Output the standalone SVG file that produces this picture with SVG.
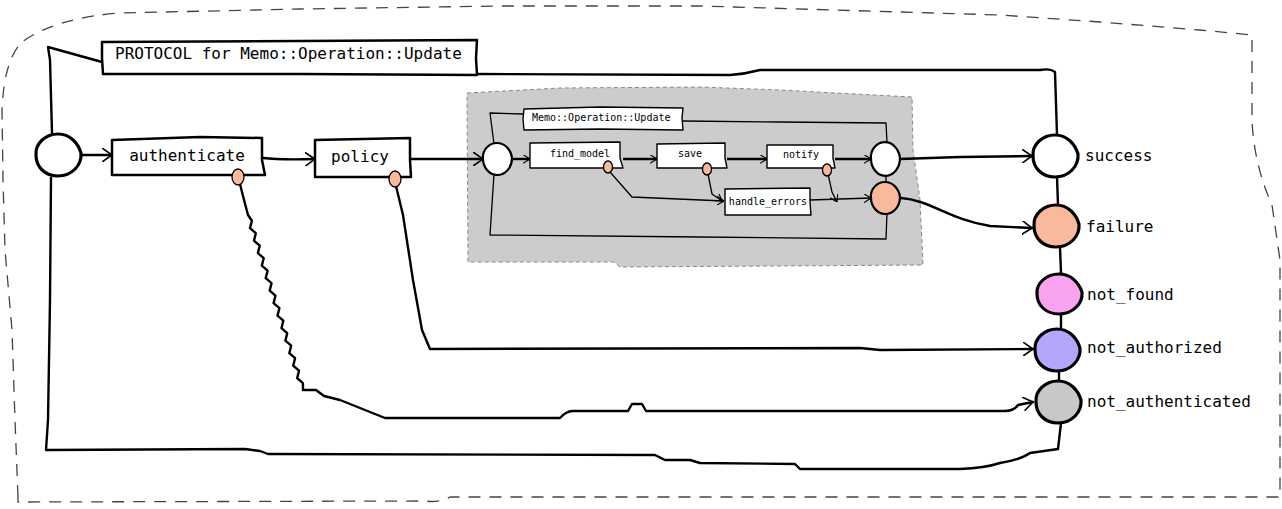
<svg xmlns="http://www.w3.org/2000/svg" xmlns:xlink="http://www.w3.org/1999/xlink" width="1282" height="509" viewBox="0 0 1282 509">
<style>
.t{font-family:"DejaVu Sans Mono","Liberation Mono",monospace;fill:#000}
.big{font-size:16px}
.sm{font-size:10px}
.box{fill:#fff;stroke:#000;stroke-width:2.5;stroke-linejoin:round}
.ibox{fill:#fff;stroke:#000;stroke-width:1.4;stroke-linejoin:round}
.node{stroke:#000;stroke-width:3.2}
.inode{stroke:#000;stroke-width:2.2}
.w{fill:#fff}.fail{fill:#fbb99b}.nf{fill:#f9a3f0}.na{fill:#b3a7fd}.nau{fill:#c8c8c8}
.edge{fill:none;stroke:#000;stroke-width:2.4;stroke-linejoin:round;stroke-linecap:round}
.iedge{fill:none;stroke:#000;stroke-width:2.4;stroke-linejoin:round}
.thin{fill:none;stroke:#000;stroke-width:1.3;stroke-linejoin:round}
.dot{fill:#fbb99b;stroke:#000;stroke-width:1.3}
</style>
<defs>
<marker id="arr" viewBox="0 0 10 14" refX="10" refY="7" markerWidth="10" markerHeight="14" markerUnits="userSpaceOnUse" orient="auto"><path d="M0,0 L10,7 L0,14" fill="none" stroke="#000" stroke-width="1.6"/></marker>
<marker id="arrs" viewBox="0 0 8 10" refX="8" refY="5" markerWidth="7" markerHeight="9" markerUnits="userSpaceOnUse" orient="auto"><path d="M0,0 L8,5 L0,10" fill="none" stroke="#000" stroke-width="1.3"/></marker>
<path id="blob" d="M-22,0 C-23,-12 -12,-21 0,-21 C12,-21 20,-12 23,-2 C24,10 14,21 0,21 C-13,21 -22,12 -22,0 Z"/>
<path id="sblob" d="M-14,0 C-15,-9 -8,-16 0,-16 C8,-16 14,-9 15,-1 C15,8 9,16 0,16 C-8,16 -14,8 -14,0 Z"/>
</defs>

<g id="outer-border">
<path d="M18,497 L15,420 L12,330 L5,250 L3,180 L2,110 Q4,60 22,42 Q55,18 120,13 L300,9 L500,6 L700,6 L1000,15 L1100,22 L1200,30 L1252,35 L1252,120 Q1254,165 1272,205 L1280,260 L1280,497 L700,497 L450,497 Q440,503 425,501 L18,502 Z" fill="none" stroke="#444" stroke-width="1.3" stroke-dasharray="12,9"/>
</g>

<g id="inner-area">
<path d="M467,93 L560,88 L700,87 L780,90 L912,97 L913,150 L920,200 L923,265 L620,267 L614,262 L468,262 Z" fill="#cccccc" stroke="#888" stroke-width="1" stroke-dasharray="4,3"/>
</g>

<g id="connectors">
<path class="edge" d="M52,133 L50,60 L48,47 L102,62"/>
<path class="edge" d="M477,74 L730,75 Q745,74 760,70 L1040,70 Q1050,68 1055,72 L1057,135"/>
<path class="edge" d="M82,155 L112,155" marker-end="url(#arr)"/>
<path class="edge" d="M263,158 Q280,160 315,159" marker-end="url(#arr)"/>
<path class="edge" d="M410,159 L483,159" marker-end="url(#arr)"/>
<path class="edge" d="M900,159 L960,157 L1032,156" marker-end="url(#arr)"/>
<path class="edge" d="M901,198 C930,200 950,220 990,226 L1032,228" marker-end="url(#arr)"/>
<path class="edge" d="M396,186 L403,215 L413,280 L422,330 L430,349 L860,348 L880,350 L1033,349" marker-end="url(#arr)"/>
<path class="edge" d="M240,184 L243,196 L248,215 L251.9,220.7 L250,228.1 L255.8,233.2 L254,240.6 L259.7,245.7 L257.9,253.1 L263.7,258.2 L261.8,265.6 L267.6,270.7 L265.7,278.1 L271.5,283.2 L269.7,290.6 L275.4,295.7 L273.6,303.1 L279.4,308.2 L277.5,315.6 L283.3,320.7 L281.5,328.1 L287.2,333.2 L285.4,340.6 L291.2,345.7 L289.3,353.1 L295.1,358.2 L293.2,365.6 L299,370.7 L297.2,378.1 L302.9,383.2 L303,390 L316,390 L324,396 L340,400 L385,418 L560,418 Q565,412 572,411 L628,411 L632,404 L642,404 L646,411 L1005,411 Q1014,411 1018,405 L1033,402" marker-end="url(#arr)"/>
<path class="edge" d="M51,178 L50,300 L48,420 L46,450 L245,449 L260,451 L268,454 L655,455 L665,460 L690,460 L700,463 L795,464 L800,469 L960,469 Q985,468 1000,463 Q1020,460 1030,453 L1058,449 L1061,423"/>
<path class="edge" d="M1057,177 L1058,205"/>
<path class="edge" d="M1060,247 L1061,273"/>
<path class="edge" d="M1061,314 L1061,328"/>
<path class="edge" d="M1059,371 L1059,381"/>
<path class="iedge" d="M512,159 L530,159" marker-end="url(#arrs)"/>
<path class="iedge" d="M623,159 L657,159" marker-end="url(#arrs)"/>
<path class="iedge" d="M727,159 L767,159" marker-end="url(#arrs)"/>
<path class="iedge" d="M835,159 L871,159" marker-end="url(#arrs)"/>
<path class="thin" d="M494,144 L490,113 L523,114"/>
<path class="thin" d="M683,121 L780,122 L886,123 L887,143"/>
<path class="thin" d="M494,174 L490,235 L700,237 L886,239 L887,213"/>
<path class="thin" d="M610,172 L632,197 L724,201" marker-end="url(#arrs)"/>
<path class="thin" d="M708,174 L712,194 L722,201" marker-end="url(#arrs)"/>
<path class="thin" d="M828,174 L832,192 L837,202" marker-end="url(#arrs)"/>
<path class="thin" d="M810,200 L871,198" marker-end="url(#arrs)"/>
<path class="thin" d="M886,176 L886,183"/>
</g>

<g id="protocol-label">
<path class="box" d="M102,42 L300,41 L477,40 L476,58 L477,75 L300,74 L103,74 L102,58 Z"/>
<text class="t big" x="115" y="59">PROTOCOL for Memo::Operation::Update</text>
</g>

<g id="start">
<use xlink:href="#blob" href="#blob" class="node w" transform="translate(58,155)"/>
</g>

<g id="authenticate">
<path class="box" d="M112,140 L200,137 L262,138 L262,160 L265,175 L112,175 Z"/>
<text class="t big" x="187" y="161" text-anchor="middle">authenticate</text>
<ellipse class="dot" cx="238" cy="177" rx="6" ry="8"/>
</g>

<g id="policy">
<path class="box" d="M315,140 L410,138 L410,160 L411,177 L315,177 Z"/>
<text class="t big" x="360" y="162" text-anchor="middle">policy</text>
<ellipse class="dot" cx="395" cy="179" rx="6" ry="8"/>
</g>

<g id="inner-label">
<path class="ibox" d="M524,109 L600,107 L683,108 L682,118 L683,130 L600,129 L524,130 L523,119 Z"/>
<text class="t sm" x="532" y="121">Memo::Operation::Update</text>
</g>

<g id="inner-start">
<use xlink:href="#sblob" href="#sblob" class="inode w" transform="translate(497,159)"/>
</g>

<g id="find_model">
<path class="ibox" d="M530,143 L620,142 L620,158 L623,168 L530,168 Z"/>
<text class="t sm" x="580" y="157" text-anchor="middle">find_model</text>
<ellipse class="dot" cx="608" cy="167" rx="4.5" ry="6"/>
</g>

<g id="save">
<path class="ibox" d="M657,144 L725,143 L725,158 L727,168 L657,168 Z"/>
<text class="t sm" x="690" y="157" text-anchor="middle">save</text>
<ellipse class="dot" cx="707" cy="169" rx="4.5" ry="6"/>
</g>

<g id="notify">
<path class="ibox" d="M767,145 L833,145 L833,158 L835,168 L767,168 Z"/>
<text class="t sm" x="801" y="158" text-anchor="middle">notify</text>
<ellipse class="dot" cx="827" cy="170" rx="4.5" ry="6"/>
</g>

<g id="handle_errors">
<path class="ibox" d="M725,189 L810,188 L810,202 L811,215 L725,215 Z"/>
<text class="t sm" x="768" y="205" text-anchor="middle">handle_errors</text>
</g>

<g id="inner-success">
<use xlink:href="#sblob" href="#sblob" class="inode w" transform="translate(885,159) scale(1,1.05)"/>
</g>

<g id="inner-failure">
<use xlink:href="#sblob" href="#sblob" class="inode fail" transform="translate(885,198)"/>
</g>

<g id="success">
<use xlink:href="#blob" href="#blob" class="node w" transform="translate(1055,156)"/>
<text class="t big" x="1085" y="161">success</text>
</g>

<g id="failure">
<use xlink:href="#blob" href="#blob" class="node fail" transform="translate(1056,226)"/>
<text class="t big" x="1086" y="232">failure</text>
</g>

<g id="not_found">
<use xlink:href="#blob" href="#blob" class="node nf" transform="translate(1059,294) scale(1,0.95)"/>
<text class="t big" x="1087" y="300">not_found</text>
</g>

<g id="not_authorized">
<use xlink:href="#blob" href="#blob" class="node na" transform="translate(1057,350)"/>
<text class="t big" x="1087" y="353">not_authorized</text>
</g>

<g id="not_authenticated">
<use xlink:href="#blob" href="#blob" class="node nau" transform="translate(1058,402)"/>
<text class="t big" x="1087" y="407">not_authenticated</text>
</g>
</svg>
